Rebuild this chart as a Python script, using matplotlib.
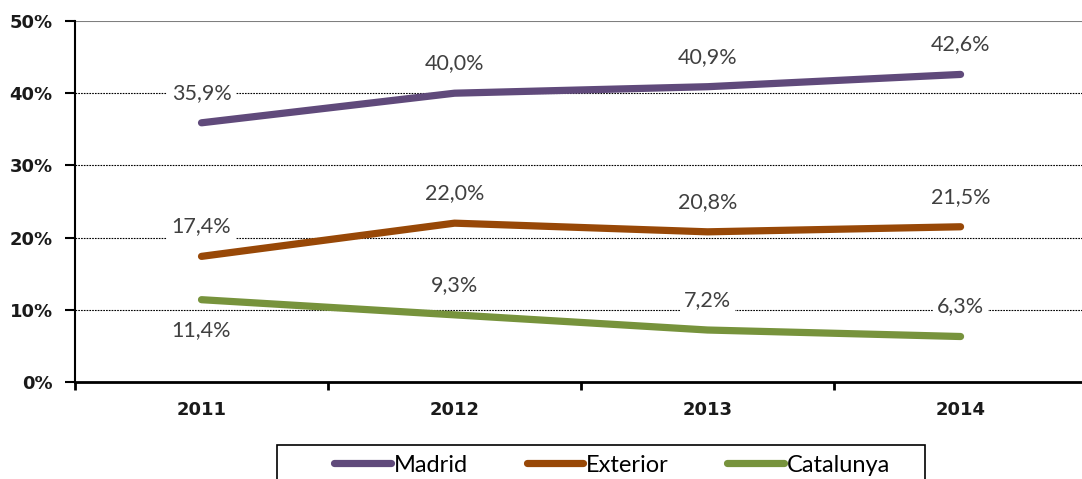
import matplotlib.pyplot as plt
from matplotlib.patches import Rectangle
from matplotlib.ticker import FixedLocator, NullFormatter

# values
years = ['2011', '2012', '2013', '2014']
madrid = [35.9, 40.0, 40.9, 42.6]
exterior = [17.4, 22.0, 20.8, 21.5]
catalunya = [11.4, 9.3, 7.2, 6.3]
yticks = [0, 10, 20, 30, 40, 50]

series = [
    ('Madrid', madrid, '#604A7B', ['above'] * 4),
    ('Exterior', exterior, '#984807', ['above'] * 4),
    ('Catalunya', catalunya, '#77933C', ['below', 'above', 'above', 'above']),
]

plt.rcParams['font.family'] = ['Lato', 'DejaVu Sans']

W, H = 1082, 479
fig = plt.figure(figsize=(W / 100, H / 100), dpi=100)
ax = fig.add_axes([75 / W, 97 / H, 1 - 75 / W, 361 / H])

x = list(range(len(years)))

# ── gridlines ─────────────────────────────────────────────────────────
for v in yticks[1:-1]:
    ax.axhline(v, color='black', lw=0.8, ls=(0, (1.5, 1)), zorder=1)
ax.axhline(50, color='#7f7f7f', lw=1.5, zorder=1)

# ── lines and labels ──────────────────────────────────────────────────
for name, vals, color, pos in series:
    ax.plot(x, vals, color=color, lw=5.2, solid_capstyle='round', label=name, zorder=3)
    for xi, v, p in zip(x, vals, pos):
        dy = 30 if p == 'above' else -30
        ax.annotate(f'{v:.1f}%'.replace('.', ','), (xi, v), xytext=(0, dy),
                    textcoords='offset pixels', ha='center', va='center',
                    fontsize=15.5, color='#404040', zorder=4,
                    bbox=dict(boxstyle='square,pad=0.2', fc='white', ec='none'))

# ── axes styling ──────────────────────────────────────────────────────
ax.set_ylim(0, 50)
ax.set_xlim(-0.5, 3.48)
ax.set_yticks(yticks)
ax.set_yticklabels([f'{v}%' for v in yticks], fontsize=13, fontweight='bold',
                   family=['DejaVu Sans'], color='#1a1a1a')
ax.xaxis.set_major_locator(FixedLocator([-0.5, 0.5, 1.5, 2.5, 3.5]))
ax.xaxis.set_major_formatter(NullFormatter())
ax.xaxis.set_minor_locator(FixedLocator(x))
ax.set_xticklabels(years, minor=True, fontsize=13, fontweight='bold',
                   family=['DejaVu Sans'], color='#1a1a1a')
ax.tick_params(axis='x', which='minor', length=0, pad=14)
ax.tick_params(axis='x', which='major', length=6, width=2, direction='out')
ax.tick_params(axis='y', length=7, width=1.5, direction='out', pad=9)
for s in ['top', 'right']:
    ax.spines[s].set_visible(False)
ax.spines['left'].set_linewidth(1.5)
ax.spines['bottom'].set_linewidth(2)

# ── legend (frame drawn separately, it runs off the bottom edge) ─────
fig.patches.append(Rectangle((277 / W, -0.05), 648 / W, 0.05 + 34 / H,
                             transform=fig.transFigure, fc='none', ec='black',
                             lw=1.2, zorder=5))
leg = fig.legend(loc='center', bbox_to_anchor=(612 / W, 14 / H), ncol=3,
                 frameon=False, fontsize=17, handlelength=2.4,
                 handletextpad=0.1, columnspacing=2.5, borderpad=0,
                 borderaxespad=0)
for line in leg.get_lines():
    line.set_linewidth(5.2)

fig.savefig('out.png', dpi=100)
